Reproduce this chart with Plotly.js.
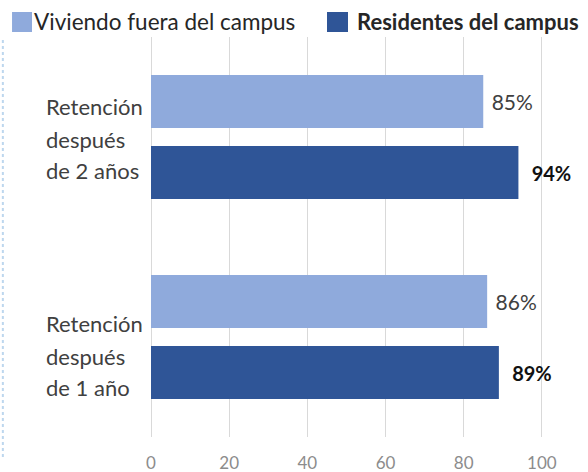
<!DOCTYPE html>
<html>
<head>
<meta charset="utf-8">
<script src="https://cdn.plot.ly/plotly-3.0.1.min.js"></script>
<style>
  html, body { margin: 0; padding: 0; background: #fff; }
  #chart { width: 588px; height: 472px; }
</style>
</head>
<body>
<div id="chart"></div>
<script>
// ---- data ----
const categories = ["1 año", "2 años"];
const labelLines1 = ["Retención", "después", "de 1 año"];
const labelLines2 = ["Retención", "después", "de 2 años"];
const seriesNames = ["Viviendo fuera del campus", "Residentes del campus"];
const offCampus = [86, 85];
const onCampus = [89, 94];
const xTicks = [0, 20, 40, 60, 80, 100];

const FONT = "Lato, 'Liberation Sans', sans-serif";
const LIGHT = "#8FAADC";
const DARK = "#2F5597";

const traces = [
  {
    type: "bar", orientation: "h", name: seriesNames[1],
    y: categories, x: onCampus,
    marker: { color: DARK },
    texttemplate: "\u00a0\u00a0<b>%{x}%</b>", textposition: "outside",
    textfont: { family: FONT, size: 20, color: "#111111" },
    cliponaxis: false, hoverinfo: "skip", showlegend: false
  },
  {
    type: "bar", orientation: "h", name: seriesNames[0],
    y: categories, x: offCampus,
    marker: { color: LIGHT },
    texttemplate: "\u00a0%{x}%", textposition: "outside",
    textfont: { family: FONT, size: 21, color: "#404040" },
    cliponaxis: false, hoverinfo: "skip", showlegend: false
  }
];

const annotations = [];
const shifts1 = [14, -19, -50];
const shifts2 = [31, -2, -33];
labelLines1.forEach((t, i) => annotations.push({
  xref: "paper", yref: "y", x: -0.245, y: categories[0], yshift: shifts1[i],
  text: t, showarrow: false, xanchor: "left", yanchor: "middle",
  font: { family: FONT, size: 22, color: "#404040" }
}));
labelLines2.forEach((t, i) => annotations.push({
  xref: "paper", yref: "y", x: -0.245, y: categories[1], yshift: shifts2[i],
  text: t, showarrow: false, xanchor: "left", yanchor: "middle",
  font: { family: FONT, size: 22, color: "#404040" }
}));
// manual legend text
annotations.push({
  xref: "paper", yref: "paper", x: -0.272, y: 1.0375,
  text: seriesNames[0], showarrow: false, xanchor: "left", yanchor: "middle",
  font: { family: FONT, size: 22.5, color: "#262626" }
});
annotations.push({
  xref: "paper", yref: "paper", x: 0.466, y: 1.0375,
  text: "<b>" + seriesNames[1] + "</b>", showarrow: false, xanchor: "left", yanchor: "middle",
  font: { family: FONT, size: 22, color: "#262626" }
});

const shapes = [
  { type: "rect", xref: "paper", yref: "paper", x0: -0.318, x1: -0.2723, y0: 1.0125, y1: 1.0625,
    fillcolor: LIGHT, line: { width: 0 } },
  { type: "rect", xref: "paper", yref: "paper", x0: 0.4027, x1: 0.4508, y0: 1.0125, y1: 1.0625,
    fillcolor: DARK, line: { width: 0 } },
  { type: "line", xref: "paper", yref: "paper", x0: -0.339, x1: -0.339, y0: -0.05, y1: 1.0,
    line: { color: "#BDD7EE", width: 2, dash: "dot" } }
];

const layout = {
  width: 588, height: 472,
  margin: { l: 151, r: 0, t: 37, b: 35 },
  paper_bgcolor: "#ffffff", plot_bgcolor: "#ffffff",
  barmode: "group", bargap: 0.29, bargroupgap: 0.2535,
  showlegend: false,
  xaxis: {
    range: [0, 111.8], tickvals: xTicks, ticktext: xTicks.map(String),
    showgrid: true, gridcolor: "#D9D9D9", gridwidth: 1,
    zeroline: true, zerolinecolor: "#D9D9D9", zerolinewidth: 1,
    showline: false, ticks: "", ticklabelstandoff: 14,
    tickfont: { family: FONT, size: 17, color: "#8C8C8C" },
    fixedrange: true
  },
  yaxis: {
    type: "category", categoryorder: "array", categoryarray: categories,
    range: [-0.5, 1.5], showticklabels: false, showgrid: false,
    zeroline: false, showline: false, ticks: "", fixedrange: true
  },
  annotations: annotations,
  shapes: shapes,
  font: { family: FONT }
};

Plotly.newPlot("chart", traces, layout, { displayModeBar: false, staticPlot: true });
</script>
</body>
</html>
